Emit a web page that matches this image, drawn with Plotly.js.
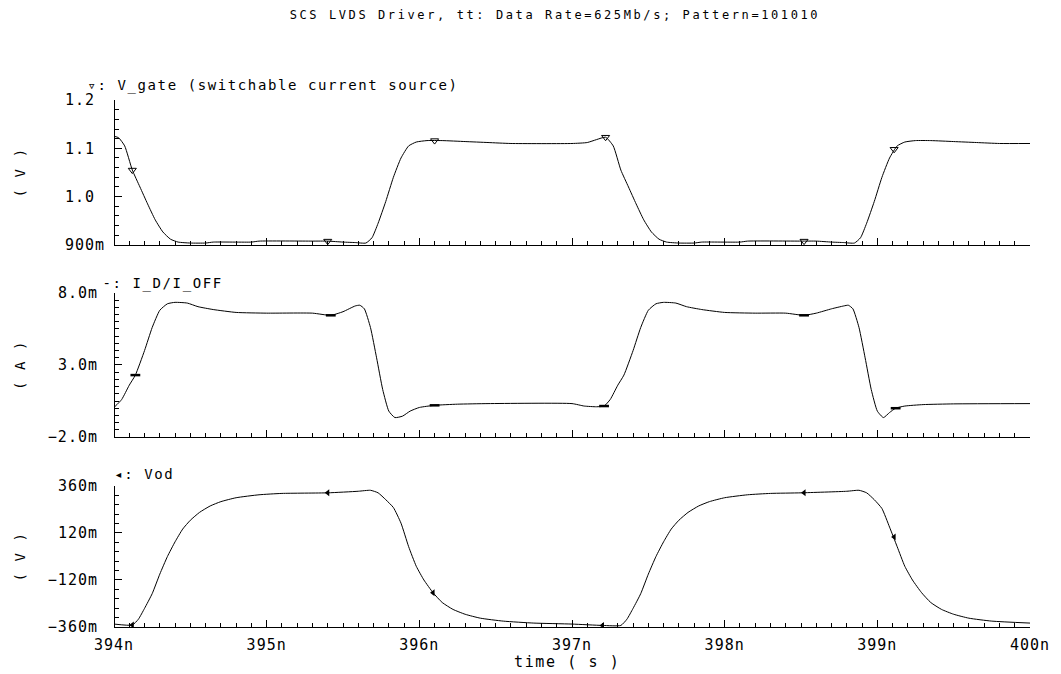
<!DOCTYPE html>
<html><head><meta charset="utf-8">
<script src="https://cdn.plot.ly/plotly-3.0.1.min.js"></script>
<style>
html,body{margin:0;padding:0;background:#fff;}
#chart{width:1061px;height:674px;}
#chart .gtitle{letter-spacing:2.6px;}
#chart .annotation-text{letter-spacing:1.6px;}
#chart .xtick text,#chart .x2tick text,#chart .x3tick text,#chart .ytick text,#chart .y2tick text,#chart .y3tick text{letter-spacing:1px;}
</style>
</head><body><div id="chart"></div>
<script>
// ---- data (time in ns) ----
const tGate = [394.00,394.03,394.07,394.12,394.17,394.22,394.27,394.32,394.37,394.42,394.50,394.60,394.65,394.90,394.95,395.30,395.40,395.50,395.58,395.65,395.69,395.73,395.78,395.83,395.88,395.93,395.98,396.05,396.15,396.30,396.45,396.60,397.00,397.10,397.16,397.22,397.27,397.32,397.37,397.42,397.47,397.52,397.57,397.62,397.70,397.80,397.85,398.10,398.15,398.50,398.60,398.70,398.78,398.85,398.89,398.93,398.98,399.03,399.08,399.13,399.18,399.25,399.35,399.50,399.65,399.80,400.00];
const vGate = [1.125,1.122,1.105,1.055,1.02,0.985,0.952,0.927,0.912,0.906,0.904,0.904,0.906,0.906,0.908,0.908,0.908,0.906,0.905,0.904,0.915,0.945,0.99,1.04,1.08,1.105,1.113,1.116,1.116,1.114,1.112,1.110,1.110,1.112,1.118,1.123,1.105,1.055,1.02,0.985,0.952,0.927,0.912,0.906,0.904,0.904,0.906,0.906,0.908,0.908,0.908,0.906,0.905,0.904,0.915,0.945,0.99,1.04,1.08,1.105,1.113,1.116,1.116,1.114,1.112,1.110,1.110];

const tId = [394.00,394.05,394.10,394.14,394.20,394.25,394.30,394.35,394.40,394.48,394.55,394.65,394.80,395.00,395.30,395.42,395.50,395.58,395.61,395.64,395.68,395.72,395.76,395.80,395.84,395.89,395.94,396.00,396.10,396.25,396.45,397.00,397.08,397.16,397.21,397.25,397.30,397.34,397.40,397.45,397.50,397.55,397.60,397.68,397.75,397.85,398.00,398.20,398.40,398.52,398.60,398.70,398.78,398.81,398.84,398.88,398.92,398.96,399.00,399.04,399.08,399.12,399.18,399.30,399.50,400.00];
const iD_mA = [0.05,0.6,1.6,2.3,4.0,5.6,6.8,7.25,7.35,7.3,7.05,6.85,6.65,6.6,6.6,6.45,6.7,7.1,7.15,6.9,5.6,3.5,1.3,-0.2,-0.65,-0.55,-0.2,0.05,0.2,0.28,0.32,0.32,0.15,0.1,0.15,0.6,1.6,2.3,4.0,5.6,6.8,7.25,7.35,7.3,7.05,6.85,6.65,6.6,6.6,6.45,6.6,6.9,7.1,7.15,6.9,5.6,3.5,1.3,-0.2,-0.65,-0.3,0.0,0.15,0.25,0.3,0.32];

const tVod = [394.00,394.12,394.16,394.20,394.25,394.30,394.35,394.40,394.45,394.50,394.56,394.63,394.70,394.80,394.95,395.10,395.40,395.60,395.68,395.73,395.78,395.83,395.88,395.93,395.98,396.03,396.09,396.15,396.22,396.30,396.40,396.55,396.75,397.00,397.20,397.32,397.36,397.40,397.45,397.50,397.55,397.60,397.65,397.70,397.76,397.83,397.90,398.00,398.15,398.30,398.50,398.80,398.88,398.93,398.98,399.03,399.08,399.13,399.18,399.23,399.29,399.35,399.42,399.50,399.60,399.75,400.00];
const vVod = [-0.345,-0.35,-0.32,-0.265,-0.19,-0.09,0.0,0.075,0.14,0.185,0.225,0.258,0.28,0.3,0.315,0.322,0.325,0.333,0.338,0.325,0.29,0.25,0.17,0.05,-0.05,-0.12,-0.185,-0.235,-0.27,-0.295,-0.315,-0.33,-0.34,-0.345,-0.352,-0.352,-0.32,-0.265,-0.19,-0.09,0.0,0.075,0.14,0.185,0.225,0.258,0.28,0.3,0.315,0.322,0.325,0.333,0.338,0.325,0.29,0.245,0.15,0.05,-0.05,-0.12,-0.185,-0.235,-0.27,-0.295,-0.315,-0.33,-0.34];

// marker positions
const gateMkT = [394.12,395.40,396.10,397.22,398.52,399.11];
const gateMkV = [1.055,0.908,1.116,1.123,0.908,1.098];
const idMkT = [394.14,395.42,396.10,397.21,398.52,399.12];
const idMkV = [2.3,6.45,0.2,0.15,6.45,0.0];
const vodMkT = [394.12,395.40,396.09,397.20,398.52,399.11];
const vodMkV = [-0.35,0.325,-0.185,-0.352,0.325,0.10];

// ticks
const xTickVals = [394,395,396,397,398,399,400];
const xTickText = ['394n','395n','396n','397n','398n','399n','400n'];
const gateTickVals = [0.9,1.0,1.1,1.2];
const gateTickText = ['900m','1.0\u00a0','1.1\u00a0','1.2\u00a0'];
const idTickVals = [-2,3,8];
const idTickText = ['\u22122.0m','3.0m','8.0m'];
const vodTickVals = [-0.36,-0.12,0.12,0.36];
const vodTickText = ['\u2212360m','\u2212120m','120m','360m'];

const titleText = 'SCS LVDS Driver, tt: Data Rate=625Mb/s; Pattern=101010';
const gateLabel = '\u25bf: V_gate (switchable current source)';
const idLabel = '-: I_D/I_OFF';
const vodLabel = '\u25c2: Vod';

const FONT = 'DejaVu Sans Mono, monospace';
const line = {color:'#000', width:1, shape:'spline', smoothing:0.5};

const traces = [
  {x:tGate, y:vGate, xaxis:'x', yaxis:'y', mode:'lines', line:line},
  {x:gateMkT, y:gateMkV, xaxis:'x', yaxis:'y', mode:'markers', marker:{symbol:'triangle-down-open', size:7, color:'#000', line:{color:'#000', width:1}}},
  {x:tId, y:iD_mA, xaxis:'x2', yaxis:'y2', mode:'lines', line:line},
  {x:idMkT, y:idMkV, xaxis:'x2', yaxis:'y2', mode:'markers', marker:{symbol:'line-ew', size:7, color:'#000', line:{color:'#000', width:2.5}}},
  {x:tVod, y:vVod, xaxis:'x3', yaxis:'y3', mode:'lines', line:line},
  {x:vodMkT, y:vodMkV, xaxis:'x3', yaxis:'y3', mode:'markers', marker:{symbol:'triangle-left', size:6, color:'#000'}}
];

function xax(anchor, showLabels){
  return {anchor:anchor, range:[394,400], tickmode:'array', tickvals:xTickVals, ticktext:xTickText,
    showticklabels:showLabels, showline:true, linecolor:'#000', linewidth:1, ticks:'inside', ticklen:7, tickwidth:1, tickcolor:'#000',
    showgrid:false, zeroline:false, ticklabelstandoff:4, tickfont:{family:FONT, size:15, color:'#000'},
    minor:{tickmode:'linear', tick0:394, dtick:0.1, ticks:'inside', ticklen:4, tickwidth:1, tickcolor:'#000', showgrid:false}};
}
function yax(domain, range, vals, text, t0, dt, standoff){
  return {anchor:'free', position:0, domain:domain, range:range, tickmode:'array', tickvals:vals, ticktext:text,
    showline:true, linecolor:'#000', linewidth:1, ticks:'inside', ticklen:7, tickwidth:1, tickcolor:'#000',
    showgrid:false, zeroline:false, ticklabelstandoff:standoff, tickfont:{family:FONT, size:15, color:'#000'},
    minor:{tickmode:'linear', tick0:t0, dtick:dt, ticks:'inside', ticklen:4, tickwidth:1, tickcolor:'#000', showgrid:false}};
}

const layout = {
  width:1061, height:674, paper_bgcolor:'#fff', plot_bgcolor:'#fff', showlegend:false, hovermode:false,
  margin:{l:114, r:31, t:100, b:47},
  font:{family:FONT, color:'#000', size:14},
  title:{text:titleText, x:0.523, xref:'container', xanchor:'center', y:0.978, yref:'container', yanchor:'middle', font:{family:FONT, size:12, color:'#000'}},
  xaxis: xax('y', false),
  xaxis2: xax('y2', false),
  xaxis3: xax('y3', true),
  yaxis: yax([0.7249,1], [0.9,1.2], gateTickVals, gateTickText, 0.9, 0.02, 6),
  yaxis2: yax([0.3605,0.6338], [-2,8], idTickVals, idTickText, -2, 0.5, 13),
  yaxis3: yax([0,0.2676], [-0.36,0.36], vodTickVals, vodTickText, -0.36, 0.048, 13),
  annotations:[
    {text:gateLabel, xref:'paper', yref:'paper', x:0.0011, y:1.0266, xanchor:'left', yanchor:'middle', showarrow:false, font:{family:FONT, size:14, color:'#000'}},
    {text:idLabel, xref:'paper', yref:'paper', x:-0.0044, y:0.6509, xanchor:'left', yanchor:'middle', showarrow:false, font:{family:FONT, size:14, color:'#000'}},
    {text:vodLabel, xref:'paper', yref:'paper', x:0.0033, y:0.2903, xanchor:'left', yanchor:'middle', showarrow:false, font:{family:FONT, size:14, color:'#000'}},
    {text:'( V )', xref:'paper', yref:'paper', x:-0.1026, y:0.8625, xanchor:'center', yanchor:'middle', textangle:-90, showarrow:false, font:{family:FONT, size:14, color:'#000'}},
    {text:'( A )', xref:'paper', yref:'paper', x:-0.1026, y:0.4972, xanchor:'center', yanchor:'middle', textangle:-90, showarrow:false, font:{family:FONT, size:14, color:'#000'}},
    {text:'( V )', xref:'paper', yref:'paper', x:-0.1026, y:0.1338, xanchor:'center', yanchor:'middle', textangle:-90, showarrow:false, font:{family:FONT, size:14, color:'#000'}},
    {text:'time ( s )', xref:'paper', yref:'paper', x:0.494, y:-0.0664, xanchor:'center', yanchor:'middle', showarrow:false, font:{family:FONT, size:15, color:'#000'}}
  ]
};

Plotly.newPlot('chart', traces, layout, {displayModeBar:false, staticPlot:true});
</script></body></html>
